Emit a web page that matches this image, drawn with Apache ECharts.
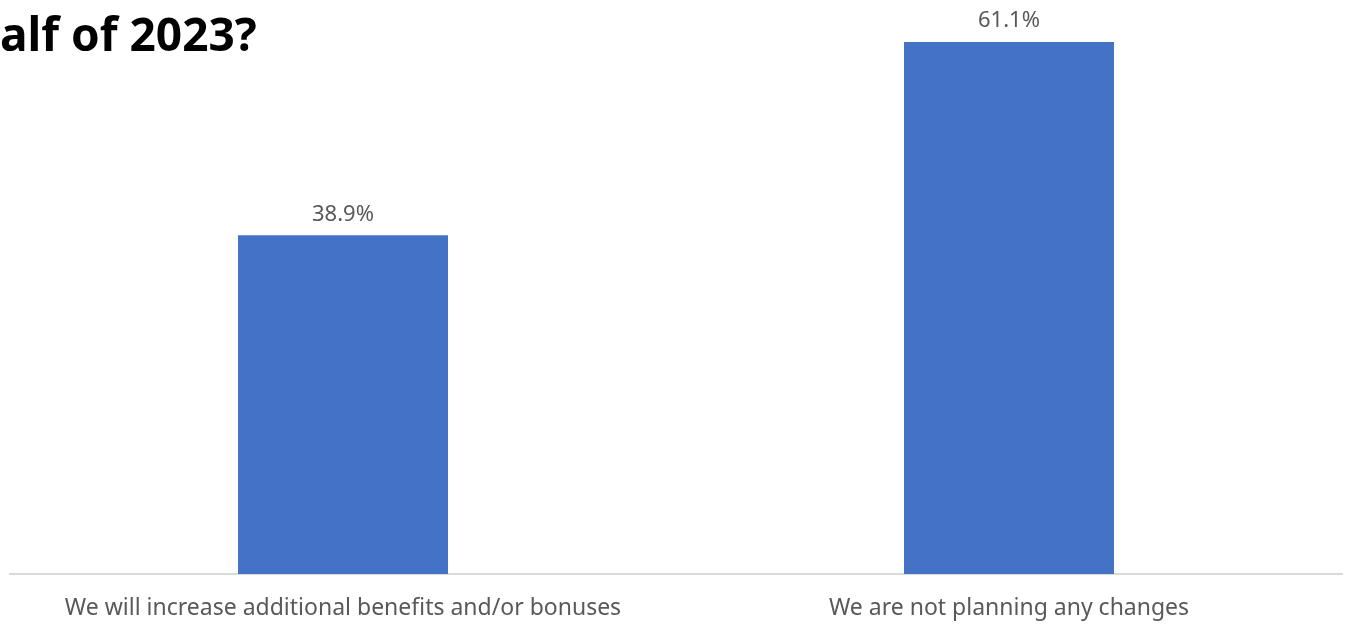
<!DOCTYPE html>
<html><head><meta charset="utf-8">
<script src="https://cdn.jsdelivr.net/npm/echarts@6/dist/echarts.min.js"></script>
<style>html,body{margin:0;padding:0;background:#fff}#c{width:1350px;height:633px}</style>
</head><body><div id="c"></div>
<script>
const categories = ["We will increase additional benefits and/or bonuses", "We are not planning any changes"];
const values = [38.9, 61.1];
const titleText = "alf of 2023?";

const chart = echarts.init(document.getElementById('c'));
chart.setOption({
  backgroundColor: '#ffffff',
  animation: false,
  grid: {left: 10, right: 8, top: 8, bottom: 59, containLabel: false},
  graphic: [{
    type: 'text', left: 0, top: 15,
    style: {text: titleText, font: 'bold 46px "Noto Sans"', fill: '#000000'}
  }],
  xAxis: {
    type: 'category', data: categories,
    axisLine: {lineStyle: {color: '#d9d9d9', width: 2}},
    axisTick: {show: false},
    axisLabel: {interval: 0, hideOverlap: false, color: '#595959', fontSize: 23, fontFamily: '"Noto Sans"', margin: 23}
  },
  yAxis: {type: 'value', min: 0, max: 65, show: false, splitLine: {show: false}},
  series: [{
    type: 'bar', data: values, barWidth: 210,
    itemStyle: {color: '#4472c4'},
    label: {show: true, position: 'top', distance: 10, formatter: '{c}%', color: '#595959', fontSize: 22, fontFamily: '"Noto Sans"'}
  }]
});
</script></body></html>
